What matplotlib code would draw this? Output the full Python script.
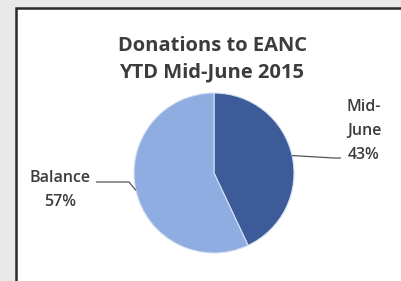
import numpy as np
import matplotlib.pyplot as plt
from matplotlib.patches import Rectangle

plt.rcParams["font.family"] = ["Open Sans", "DejaVu Sans"]

# data
labels = ["Mid-\nJune", "Balance"]
values = [43, 57]
colors = ["#3d5b98", "#8fade0"]
title = "Donations to EANC\nYTD Mid-June 2015"

W, H = 401, 281
fig = plt.figure(figsize=(W / 100, H / 100), dpi=100)
fig.patch.set_facecolor("#e9e9e9")
ax = fig.add_axes([0, 0, 1, 1])

# white panel with dark frame (runs off right/bottom edges)
ax.add_patch(Rectangle((16, -10), W, H - 8 + 10, facecolor="white",
                       edgecolor="#2b2b2b", lw=1.8, zorder=0))

cx, cy, r = 214, H - 173, 80
wedges, _ = ax.pie(values, colors=colors, startangle=90, counterclock=False,
                   center=(cx, cy), radius=r, frame=True,
                   wedgeprops=dict(edgecolor="#d4e0f4", linewidth=0.8))
ax.set_xlim(0, W)
ax.set_ylim(0, H)
ax.set_aspect("equal")
ax.axis("off")

tc = "#3c3c3c"
ax.text(212, H - 59, title, ha="center", va="center", fontsize=14.5,
        fontweight="bold", color=tc, linespacing=1.4)

# labels with leader lines from the wedge midpoints
lab_pos = [(364, H - 131), (60, H - 190)]
elbow = [(334, H - 158), (129, H - 182)]
end = [(341, H - 158), (96, H - 182)]
for w, lab, v, p, e, f in zip(wedges, labels, values, lab_pos, elbow, end):
    ang = np.deg2rad((w.theta1 + w.theta2) / 2)
    x0, y0 = cx + r * np.cos(ang), cy + r * np.sin(ang)
    ax.plot([x0, e[0], f[0]], [y0, e[1], f[1]], color="#555555", lw=0.9,
            solid_capstyle="butt")
    ax.text(p[0], p[1], f"{lab}\n{v}%", ha="center", va="center",
            fontsize=11.5, fontweight="semibold", color=tc, linespacing=1.7)

plt.savefig("out.png", dpi=100, facecolor=fig.get_facecolor())
